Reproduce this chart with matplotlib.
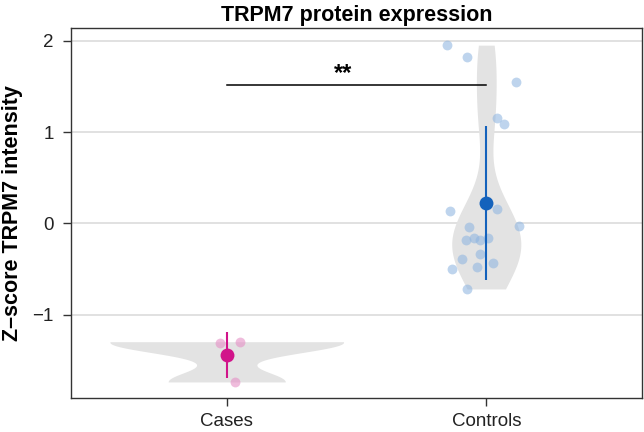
import numpy as np
import matplotlib
matplotlib.use("Agg")
import matplotlib.pyplot as plt

plt.rcParams['font.family'] = ['Liberation Sans', 'DejaVu Sans']

categories = ["Cases", "Controls"]
cases_values = [-1.306, -1.295, -1.736]
cases_jitter = [-0.027, 0.05, 0.031]
controls_values = [1.954, 1.826, 1.547, 1.152, 1.087,
                   0.140, 0.155, -0.024, -0.035, -0.177, -0.162, -0.181, -0.155,
                   -0.334, -0.389, -0.433, -0.480, -0.502, -0.717]
controls_jitter = [-0.151, -0.076, 0.115, 0.040, 0.067,
                   -0.141, 0.040, 0.125, -0.065, -0.079, -0.048, -0.024, 0.006,
                   -0.024, -0.093, 0.025, -0.034, -0.132, -0.075]
yticks = [-1, 0, 1, 2]
sig_label = "**"
sig_y = 1.517

groups = [np.array(cases_values), np.array(controls_values)]
jitters = [np.array(cases_jitter), np.array(controls_jitter)]
dark_cols = ["#D1148A", "#1462BC"]
light_cols = ["#E58CC4", "#8FB5E0"]


def bw_nrd0(x):
    sd = np.std(x, ddof=1)
    q1, q3 = np.percentile(x, [25, 75])
    lo = min(sd, (q3 - q1) / 1.34)
    return 0.9 * lo * len(x) ** -0.2


def kde(x, grid):
    bw = bw_nrd0(x)
    z = (grid[:, None] - x[None, :]) / bw
    return np.exp(-0.5 * z ** 2).sum(axis=1) / (len(x) * bw * np.sqrt(2 * np.pi))


grids = [np.linspace(g.min(), g.max(), 512) for g in groups]
dens = [kde(g, gr) for g, gr in zip(groups, grids)]
gmax = max(d.max() for d in dens)

fig = plt.figure(figsize=(6.44, 4.32), dpi=100)
ax = fig.add_axes([71 / 644, 1 - 398 / 432, 571 / 644, 370 / 432])

for i, (g, gr, d) in enumerate(zip(groups, grids, dens)):
    pos = i + 1
    hw = d / gmax * 0.45
    ax.fill_betweenx(gr, pos - hw, pos + hw, color="#E3E3E3", lw=0, zorder=2)
    ax.scatter(pos + jitters[i], g, s=50, color=light_cols[i], alpha=0.58,
               lw=0, zorder=3)
    m = g.mean()
    sd = g.std(ddof=1)
    ax.plot([pos, pos], [m - sd, m + sd], color=dark_cols[i], lw=1.5,
            zorder=4, solid_capstyle="butt")
    ax.scatter([pos], [m], s=100, color=dark_cols[i], lw=0, zorder=5)

ax.plot([1, 2], [sig_y, sig_y], color="black", lw=1.1, zorder=4)
ax.text(1.45, sig_y + 0.0, sig_label, ha="center", va="bottom",
        fontsize=17, fontweight="bold")

ax.set_xlim(0.4, 2.6)
ax.set_ylim(-1.912, 2.142)
ax.set_xticks([1, 2])
ax.set_xticklabels(categories)
ax.set_yticks(yticks)
ax.yaxis.grid(True, color="#D9D9D9", lw=1.1, zorder=0)
ax.set_axisbelow(True)
for sp in ax.spines.values():
    sp.set_color("#333333")
    sp.set_linewidth(1.0)
ax.tick_params(axis="both", length=6, width=1.0, color="#333333",
               labelsize=13.5, labelcolor="#222222")
ax.tick_params(axis="y", pad=6.5)
ax.tick_params(axis="x", pad=5)
ax.set_ylabel("Z–score TRPM7 intensity", fontsize=15.5, fontweight="bold",
              labelpad=7)
ax.set_title("TRPM7 protein expression", fontsize=15.5, fontweight="bold",
             pad=5)

fig.savefig("out.png", dpi=100)
